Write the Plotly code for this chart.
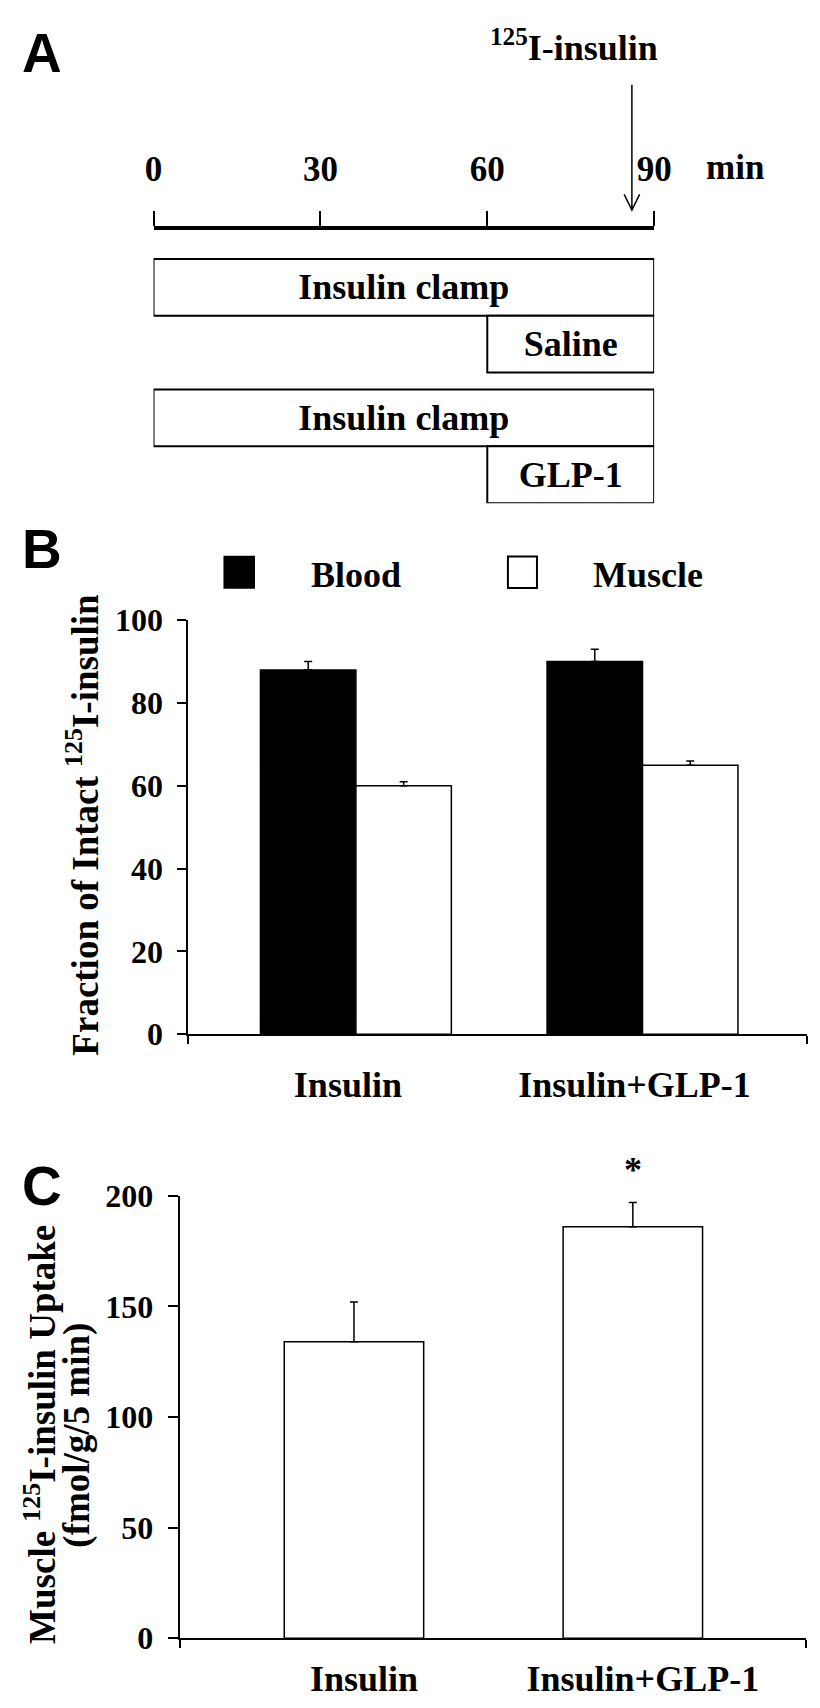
import plotly.graph_objects as go

W, H = 820, 1708

# ---------------- data ----------------
# Panel A: protocol timeline (minutes)
phase_labels = ["Insulin clamp", "Saline", "Insulin clamp", "GLP-1"]
phase_start = [0, 60, 0, 60]
phase_end = [90, 90, 90, 90]
time_ticks = [0, 30, 60, 90]
tracer_time = 86
tracer_label = "<sup>125</sup>I-insulin"

# Panel B: fraction of intact 125I-insulin (%)
groups = ["Insulin", "Insulin+GLP-1"]
blood = [88, 90]
blood_err = [2, 3]
muscle = [60, 65]
muscle_err = [1, 1]

# Panel C: muscle 125I-insulin uptake (fmol/g/5 min)
uptake = [134, 186]
uptake_err = [18, 11]

# ---------------- helpers ----------------
def fx(p):
    return p / W


def fy(p):
    return 1 - p / H


SERIF = "Liberation Serif, Times New Roman, serif"
SANS = "Liberation Sans, Arial, sans-serif"
BLACK = "black"

fig = go.Figure()

# ---------------- Panel A ----------------
row_pos = []
for i in range(len(phase_labels)):
    row_pos.append(i + 0.5 + (0.3 if i >= 2 else 0))

fig.add_trace(go.Bar(
    y=row_pos,
    x=[e - s for s, e in zip(phase_start, phase_end)],
    base=phase_start,
    orientation="h",
    width=1,
    marker=dict(color="white", line=dict(color=BLACK, width=2)),
    text=phase_labels,
    textposition="inside",
    insidetextanchor="middle",
    constraintext="none",
    textfont=dict(family=SERIF, size=36, color=BLACK, weight="bold"),
    xaxis="x", yaxis="y",
    showlegend=False, hoverinfo="skip",
))

# ---------------- Panel B ----------------
bw = 0.333
fig.add_trace(go.Bar(
    x=[0, 1], y=blood, width=bw, offset=-bw,
    marker=dict(color=BLACK, line=dict(color=BLACK, width=1.5)),
    error_y=dict(type="data", array=blood_err, arrayminus=[0, 0], symmetric=False,
                 color=BLACK, thickness=1.5, width=4),
    xaxis="x2", yaxis="y2", name="Blood", showlegend=False,
))
fig.add_trace(go.Bar(
    x=[0, 1], y=muscle, width=bw, offset=0,
    marker=dict(color="white", line=dict(color=BLACK, width=1.5)),
    error_y=dict(type="data", array=muscle_err, arrayminus=[0, 0], symmetric=False,
                 color=BLACK, thickness=1.5, width=4),
    xaxis="x2", yaxis="y2", name="Muscle", showlegend=False,
))

# ---------------- Panel C ----------------
fig.add_trace(go.Bar(
    x=[0, 1], y=uptake, width=0.5,
    marker=dict(color="white", line=dict(color=BLACK, width=1.5)),
    error_y=dict(type="data", array=uptake_err, arrayminus=[0, 0], symmetric=False,
                 color=BLACK, thickness=1.5, width=4),
    xaxis="x3", yaxis="y3", showlegend=False,
))

tick_font = dict(family=SERIF, size=32, color=BLACK, weight="bold")
cat_font = dict(family=SERIF, size=36, color=BLACK, weight="bold")

xb_range = [(177 - 350) / 296, (816 - 350) / 296]
xc_range = [(168 - 348) / 288, (815 - 348) / 288]

fig.update_layout(
    width=W, height=H,
    margin=dict(l=0, r=0, t=0, b=0),
    paper_bgcolor="white", plot_bgcolor="white",
    font=dict(family=SERIF, color=BLACK, weight="bold"),
    showlegend=False,
    xaxis=dict(
        domain=[fx(141), fx(658)], range=[0, 90], side="top", anchor="y",
        showline=True, linewidth=4, linecolor=BLACK,
        ticks="outside", ticklen=15, tickwidth=1.5, tickcolor=BLACK,
        tickmode="array", tickvals=time_ticks,
        tickfont=dict(family=SERIF, size=35, color=BLACK, weight="bold"),
        ticklabelstandoff=16,
        showgrid=False, zeroline=False, fixedrange=True,
    ),
    yaxis=dict(
        domain=[fy(487.4), fy(208)], range=[4.3, -0.517], visible=False,
        showgrid=False, zeroline=False, fixedrange=True,
    ),
    xaxis2=dict(
        domain=[fx(177), fx(816)], range=xb_range, anchor="y2",
        showline=True, linewidth=2, linecolor=BLACK,
        tickmode="array", tickvals=[0, 1], ticktext=groups, ticks="",
        minor=dict(tickmode="array", tickvals=xb_range, ticks="outside",
                   ticklen=8, tickwidth=2, tickcolor=BLACK, showgrid=False),
        tickfont=cat_font, ticklabelstandoff=18, ticklabelshift=-8,
        showgrid=False, zeroline=False, fixedrange=True,
    ),
    yaxis2=dict(
        domain=[fy(1030), fy(607)], range=[0, 100], anchor="x2",
        showline=True, linewidth=2, linecolor=BLACK,
        ticks="outside", ticklen=9, tickwidth=2, tickcolor=BLACK,
        tickmode="array", tickvals=[0, 20, 40, 60, 80, 100],
        tickfont=tick_font, ticklabelstandoff=8,
        showgrid=False, zeroline=False, fixedrange=True,
    ),
    xaxis3=dict(
        domain=[fx(168), fx(815)], range=xc_range, anchor="y3",
        showline=True, linewidth=2, linecolor=BLACK,
        tickmode="array", tickvals=[0, 1], ticktext=groups, ticks="",
        minor=dict(tickmode="array", tickvals=xc_range, ticks="outside",
                   ticklen=8, tickwidth=2, tickcolor=BLACK, showgrid=False),
        tickfont=cat_font, ticklabelstandoff=8, ticklabelshift=10,
        showgrid=False, zeroline=False, fixedrange=True,
    ),
    yaxis3=dict(
        domain=[fy(1647), fy(1195)], range=[0, 200], anchor="x3",
        showline=True, linewidth=2, linecolor=BLACK,
        ticks="outside", ticklen=10, tickwidth=2, tickcolor=BLACK,
        tickmode="array", tickvals=[0, 50, 100, 150, 200],
        tickfont=tick_font, ticklabelstandoff=8,
        showgrid=False, zeroline=False, fixedrange=True,
    ),
)

# tracer arrow (open V head) at tracer_time on panel A time axis
dx = 8 / 517 * 90
fig.add_shape(
    type="path", xref="x", yref="paper",
    path=(f"M {tracer_time},{fy(60)} L {tracer_time},{fy(188)} "
          f"M {tracer_time - dx},{fy(172)} L {tracer_time},{fy(188)} "
          f"L {tracer_time + dx},{fy(172)}"),
    line=dict(color=BLACK, width=1.5),
)

annotations = []


def ann(text, x, y, size, xanchor="center", yanchor="middle", family=SERIF,
        angle=0, **kw):
    d = dict(text=text, x=x, y=y, xref="paper", yref="paper", showarrow=False,
             xanchor=xanchor, yanchor=yanchor, textangle=angle,
             font=dict(family=family, size=size, color=BLACK, weight="bold"))
    d.update(kw)
    annotations.append(d)


# panel letters
ann("A", fx(3), fy(28), 55, xanchor="left", family=SANS)
ann("B", fx(3), fy(534), 55, xanchor="left", family=SANS)
ann("C", fx(3), fy(1185), 55, xanchor="left", family=SANS)

# panel A texts
ann(tracer_label, fx(664), fy(20), 36, xanchor="right")
ann("min", fx(742), fy(145), 35)

# panel B legend
fig.add_shape(type="rect", xref="paper", yref="paper",
              x0=fx(214), x1=fx(245), y0=fy(574), y1=fy(542),
              fillcolor=BLACK, line=dict(color=BLACK, width=1.5))
fig.add_shape(type="rect", xref="paper", yref="paper",
              x0=fx(507), x1=fx(537), y0=fy(574), y1=fy(542),
              fillcolor="white", line=dict(color=BLACK, width=2))
ann("Blood", fx(302), fy(561), 36, xanchor="left")
ann("Muscle", fx(593), fy(561), 36, xanchor="left")

# y-axis titles
ann("Fraction of Intact <sup>125</sup>I-insulin", fx(68), fy(816), 37, angle=-90)
ann("Muscle <sup>125</sup>I-insulin Uptake", fx(24), fy(1439), 37, angle=-90)
ann("(fmol/g/5 min)", fx(62), fy(1440), 37, angle=-90)

# significance marker
annotations.append(dict(
    text="*", x=1, y=uptake[1] + uptake_err[1], xref="x3", yref="y3",
    showarrow=False, xanchor="center", yanchor="middle", yshift=32,
    font=dict(family=SERIF, size=36, color=BLACK, weight="bold"),
))

fig.update_layout(annotations=annotations)

fig.write_html("out.html")
